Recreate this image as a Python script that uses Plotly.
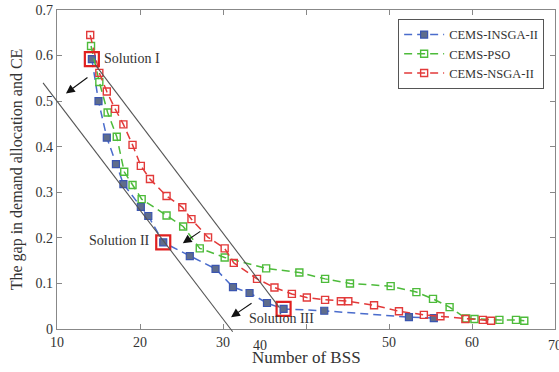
import plotly.graph_objects as go

# ---------------- data ----------------
insga_x = [14.2, 15.0, 16.0, 17.1, 18.0, 20.1, 21.0, 22.8, 26.0, 29.1, 31.2, 33.2, 35.3, 37.3, 42.2, 52.4, 55.4]
insga_y = [0.592, 0.500, 0.420, 0.362, 0.318, 0.268, 0.248, 0.190, 0.160, 0.132, 0.092, 0.079, 0.057, 0.044, 0.040, 0.026, 0.024]

pso_x = [14.1, 15.1, 16.1, 17.2, 18.1, 19.1, 20.2, 23.2, 25.2, 27.2, 30.2, 35.2, 39.2, 42.3, 45.3, 50.2, 53.3, 55.3, 57.3, 59.3, 60.3, 63.3, 65.3, 66.3]
pso_y = [0.621, 0.542, 0.475, 0.422, 0.345, 0.316, 0.285, 0.249, 0.225, 0.177, 0.157, 0.133, 0.124, 0.110, 0.100, 0.094, 0.081, 0.066, 0.048, 0.023, 0.022, 0.020, 0.020, 0.018]

nsga_x = [14.0, 15.1, 16.0, 17.0, 18.0, 19.1, 20.1, 21.2, 23.2, 25.1, 26.2, 28.2, 30.2, 31.3, 34.1, 36.2, 38.3, 40.1, 42.3, 44.2, 45.1, 48.2, 51.2, 54.2, 56.2, 59.2, 61.3, 62.3]
nsga_y = [0.645, 0.562, 0.521, 0.483, 0.449, 0.404, 0.358, 0.329, 0.292, 0.267, 0.241, 0.201, 0.177, 0.145, 0.110, 0.091, 0.077, 0.069, 0.064, 0.061, 0.061, 0.052, 0.039, 0.031, 0.028, 0.022, 0.020, 0.018]

solution_idx = [0, 7, 13]          # indices into the CEMS-INSGA-II series
solution_labels = ["Solution I", "Solution II", "Solution III"]

x_ticks = [10, 20, 30, 40, 50, 60, 70]
y_ticks = [0, 0.1, 0.2, 0.3, 0.4, 0.5, 0.6, 0.7]

# tangent lines (data units: x0, y0, x1, y1)
tangent_lines = [
    (8.32, 0.540, 31.17, -0.006),
    (14.6, 0.580, 36.8, 0.047),
]

X_RANGE = [10, 70]
Y_RANGE = [0, 0.7]

FONT = "Liberation Serif"
TXT = "#333333"
BLUE_LINE = "#4a6ccc"
GREEN = "#4dbb3a"
RED = "#e23a3a"

fig = go.Figure()

fig.add_trace(go.Scatter(
    x=insga_x, y=insga_y, mode="lines+markers", name="CEMS-INSGA-II",
    line=dict(color=BLUE_LINE, width=1.5, dash="8px,5px"),
    marker=dict(symbol="square", size=7, color="#5f6d8c", line=dict(color="#3a55b0", width=1.2)),
))
fig.add_trace(go.Scatter(
    x=pso_x, y=pso_y, mode="lines+markers", name="CEMS-PSO",
    line=dict(color=GREEN, width=1.5, dash="8px,5px"),
    marker=dict(symbol="square-open", size=7, color=GREEN, line=dict(width=1.4)),
))
fig.add_trace(go.Scatter(
    x=nsga_x, y=nsga_y, mode="lines+markers", name="CEMS-NSGA-II",
    line=dict(color=RED, width=1.5, dash="8px,5px"),
    marker=dict(symbol="square-open", size=7, color=RED, line=dict(width=1.4)),
))
# highlighted solutions
fig.add_trace(go.Scatter(
    x=[insga_x[i] for i in solution_idx], y=[insga_y[i] for i in solution_idx],
    mode="markers", showlegend=False, hoverinfo="skip",
    marker=dict(symbol="square-open", size=14, color="#e02020", line=dict(width=2.2)),
))

def px(xv):
    return (xv - X_RANGE[0]) / (X_RANGE[1] - X_RANGE[0])

def py(yv):
    return (yv - Y_RANGE[0]) / (Y_RANGE[1] - Y_RANGE[0])

shapes = []
for (x0, y0, x1, y1) in tangent_lines:
    shapes.append(dict(type="line", xref="paper", yref="paper",
                       x0=px(x0), y0=py(y0), x1=px(x1), y1=py(y1),
                       line=dict(color="#555555", width=1.1)))

annotations = []
# arrows (tip in data units, tail offset in pixels)
arrows = [(11.08, 0.517, 23, -17), (25.16, 0.188, 19, -13), (30.97, 0.026, 22, -15)]
for (ax_, ay_, dx, dy) in arrows:
    annotations.append(dict(x=ax_, y=ay_, xref="x", yref="y", text="", showarrow=True,
                            ax=dx, ay=dy, arrowhead=2, arrowsize=1.6, arrowwidth=1.1,
                            arrowcolor="#111111"))

label_pos = [(15.4, 0.594, "left"), (21.5, 0.195, "right"), (32.9, 0.022, "left")]
for (lx, ly, anc), txt in zip(label_pos, solution_labels):
    annotations.append(dict(x=lx, y=ly, xref="x", yref="y", text=txt, showarrow=False,
                            xanchor=anc, yanchor="middle",
                            font=dict(family=FONT, size=14, color=TXT)))

# the displaced "40" tick label and the clipped "70", as in the reference
annotations.append(dict(x=34.4, y=0, xref="x", yref="paper", text="40", showarrow=False,
                        yanchor="middle", yshift=-16, font=dict(family=FONT, size=14, color=TXT)))
annotations.append(dict(x=70, y=0, xref="x", yref="paper", text="70", showarrow=False,
                        yanchor="middle", yshift=-16, font=dict(family=FONT, size=14, color=TXT)))
# x-axis title
annotations.append(dict(x=0.5, y=0, xref="paper", yref="paper", text="Number of BSS", showarrow=False,
                        yanchor="middle", yshift=-28, font=dict(family=FONT, size=17, color=TXT)))

fig.update_layout(
    width=559, height=372,
    margin=dict(l=57, r=4, t=10, b=43),
    paper_bgcolor="white", plot_bgcolor="white",
    font=dict(family=FONT, size=14, color=TXT),
    shapes=shapes, annotations=annotations,
    legend=dict(x=0.685, y=0.972, xanchor="left", yanchor="top",
                bgcolor="white", bordercolor="#555555", borderwidth=1,
                font=dict(family=FONT, size=12.5, color=TXT),
                tracegroupgap=0, itemwidth=40),
    showlegend=True,
)
fig.update_xaxes(
    range=X_RANGE, tickvals=x_ticks,
    ticktext=[("" if v in (40, 70) else str(v)) for v in x_ticks],
    showgrid=False, zeroline=False, showline=True, mirror="ticks",
    linecolor="#888888", linewidth=1.2, ticks="inside", ticklen=5, tickcolor="#888888",
)
fig.update_yaxes(
    range=Y_RANGE, tickvals=y_ticks,
    ticktext=["0", "0.1", "0.2", "0.3", "0.4", "0.5", "0.6", "0.7"],
    showgrid=False, zeroline=False, showline=True, mirror="ticks",
    linecolor="#888888", linewidth=1.2, ticks="inside", ticklen=5, tickcolor="#888888",
    title=dict(text="The gap in demand allocation and CE", font=dict(family=FONT, size=16, color=TXT), standoff=8),
)

# remove the default 8px page margin so the figure fills the window exactly
fig.write_html("out.html", config={"displayModeBar": False},
               post_script="document.body.style.margin='0';")
